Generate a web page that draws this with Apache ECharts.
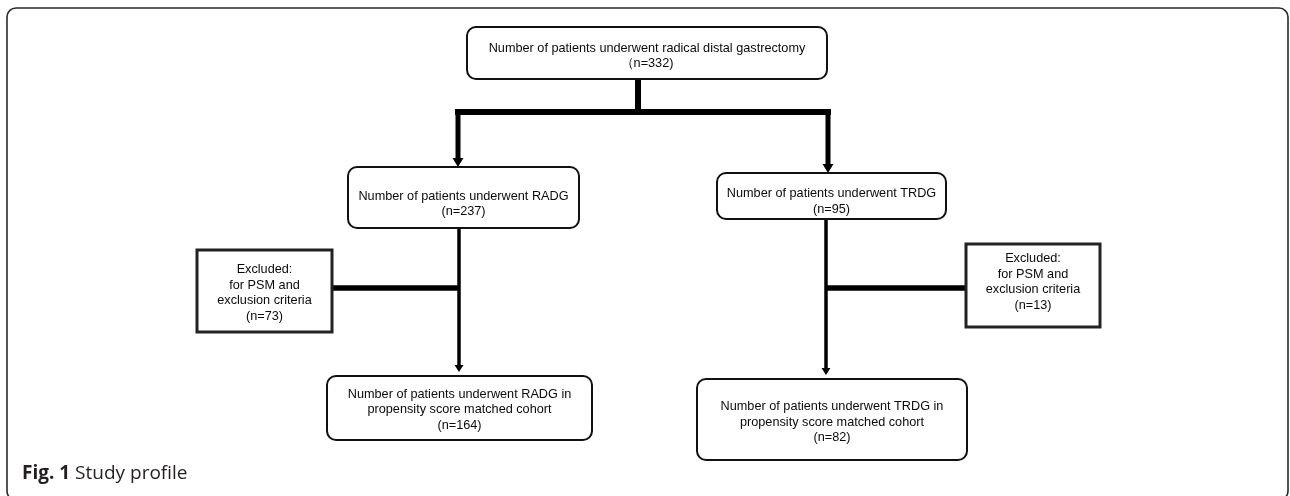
<!DOCTYPE html>
<html>
<head>
<meta charset="utf-8">
<script src="https://cdn.jsdelivr.net/npm/echarts@6/dist/echarts.min.js"></script>
<style>
html,body{margin:0;padding:0;background:#fff;}
#chart{width:1290px;height:496px;}
</style>
</head>
<body>
<div id="chart"></div>
<script>
// ---- data (text content) ----
const stageLabels = [
  'Number of patients underwent radical distal gastrectomy',
  'Number of patients underwent RADG',
  'Number of patients underwent TRDG',
  'Excluded:\nfor PSM and\nexclusion criteria',
  'Excluded:\nfor PSM and\nexclusion criteria',
  'Number of patients underwent RADG in\npropensity score matched cohort',
  'Number of patients underwent TRDG in\npropensity score matched cohort'
];
const patientCounts = [332, 237, 95, 73, 13, 164, 82];
const countOpen = ['（', '(', '(', '(', '(', '(', '('];
const captionBold = 'Fig. 1';
const captionText = 'Study profile';

// ---- layout (positions in chart units, 1 unit = 1 px) ----
// [x, y, w, h, rounded, textCenterY]
const boxLayout = [
  [467, 27, 360, 52, true, 56],
  [348, 167, 231, 61, true, 204],
  [717, 173, 229, 46, true, 201.5],
  [197, 250, 135, 82, false, 293],
  [966, 244, 134, 83, false, 282],
  [327, 376, 265, 64, true, 409.5],
  [697, 379, 270, 81, true, 422]
];
// connectors: [points, lineWidth, arrow]
const connectorLayout = [
  [[[638, 79], [638, 112]], 6, false],
  [[[455, 112], [831, 112]], 6, false],
  [[[458, 109], [458, 167]], 5, true],
  [[[828, 109], [828, 173]], 5, true],
  [[[459, 228], [459, 372]], 3.5, true],
  [[[826, 219], [826, 375]], 3.5, true],
  [[[332, 288], [459, 288]], 5.5, false],
  [[[826, 288], [966, 288]], 5.5, false]
];
const frameLayout = [7, 8, 1281, 492];

const FONT = '12.7px "Liberation Sans", Arial, sans-serif';

const chart = echarts.init(document.getElementById('chart'), null, {renderer: 'canvas'});

function boxItem(params, api) {
  const b = boxLayout[params.dataIndex];
  const p1 = api.coord([b[0], b[1]]);
  const p2 = api.coord([b[0] + b[2], b[1] + b[3]]);
  const tc = api.coord([b[0] + b[2] / 2, b[5]]);
  const label = stageLabels[params.dataIndex] + '\n' + countOpen[params.dataIndex] + 'n=' + patientCounts[params.dataIndex] + ')';
  return {
    type: 'group',
    children: [
      {
        type: 'rect',
        shape: {x: p1[0], y: p1[1], width: p2[0] - p1[0], height: p2[1] - p1[1], r: b[4] ? 9 : 0},
        style: {fill: '#fff', stroke: b[4] ? '#111' : '#222', lineWidth: b[4] ? 2 : 3}
      },
      {
        type: 'text',
        style: {
          text: label, x: tc[0], y: tc[1], align: 'center', verticalAlign: 'middle',
          font: FONT, lineHeight: 15.5, fill: '#0a0a0a'
        }
      }
    ]
  };
}

function connectorItem(params, api) {
  const c = connectorLayout[params.dataIndex];
  const pts = c[0].map(p => api.coord(p));
  const children = [];
  let end = pts[pts.length - 1].slice();
  if (c[2]) {
    const ah = c[1] > 4 ? 9 : 7;
    const aw = c[1] > 4 ? 5.5 : 4.5;
    const tip = end;
    const base = [tip[0], tip[1] - ah];
    children.push({
      type: 'polygon',
      shape: {points: [[tip[0], tip[1]], [base[0] - aw, base[1]], [base[0] + aw, base[1]]]},
      style: {fill: '#000'}
    });
    pts[pts.length - 1] = [base[0], base[1] + 1];
  }
  children.unshift({
    type: 'polyline',
    shape: {points: pts},
    style: {stroke: '#000', lineWidth: c[1], fill: null}
  });
  return {type: 'group', children: children};
}

function frameItem(params, api) {
  const p1 = api.coord([frameLayout[0], frameLayout[1]]);
  const p2 = api.coord([frameLayout[0] + frameLayout[2], frameLayout[1] + frameLayout[3]]);
  return {
    type: 'group',
    children: [
      {
        type: 'rect',
        shape: {x: p1[0], y: p1[1], width: p2[0] - p1[0], height: p2[1] - p1[1], r: 9},
        style: {fill: null, stroke: '#2a2a2a', lineWidth: 1.6}
      },
      {
        type: 'text',
        style: {
          text: '{b|' + captionBold + '} ' + captionText,
          x: api.coord([22, 0])[0], y: api.coord([0, 474])[1],
          align: 'left', verticalAlign: 'middle',
          font: '19px "Open Sans", sans-serif', fill: '#231f20',
          rich: {b: {fontWeight: 'bold', fontSize: 19, fontFamily: 'Open Sans', fill: '#231f20'}}
        }
      }
    ]
  };
}

chart.setOption({
  animation: false,
  grid: {left: 0, right: 0, top: 0, bottom: 0},
  xAxis: {type: 'value', min: 0, max: 1290, show: false},
  yAxis: {type: 'value', min: 0, max: 496, inverse: true, show: false},
  series: [
    {type: 'custom', coordinateSystem: 'cartesian2d', renderItem: frameItem, data: [0], silent: true, clip: false},
    {type: 'custom', coordinateSystem: 'cartesian2d', renderItem: connectorItem, data: connectorLayout.map((c, i) => i), silent: true, clip: false},
    {type: 'custom', coordinateSystem: 'cartesian2d', renderItem: boxItem, data: stageLabels.map((s, i) => i), silent: true, clip: false}
  ]
});
</script>
</body>
</html>
